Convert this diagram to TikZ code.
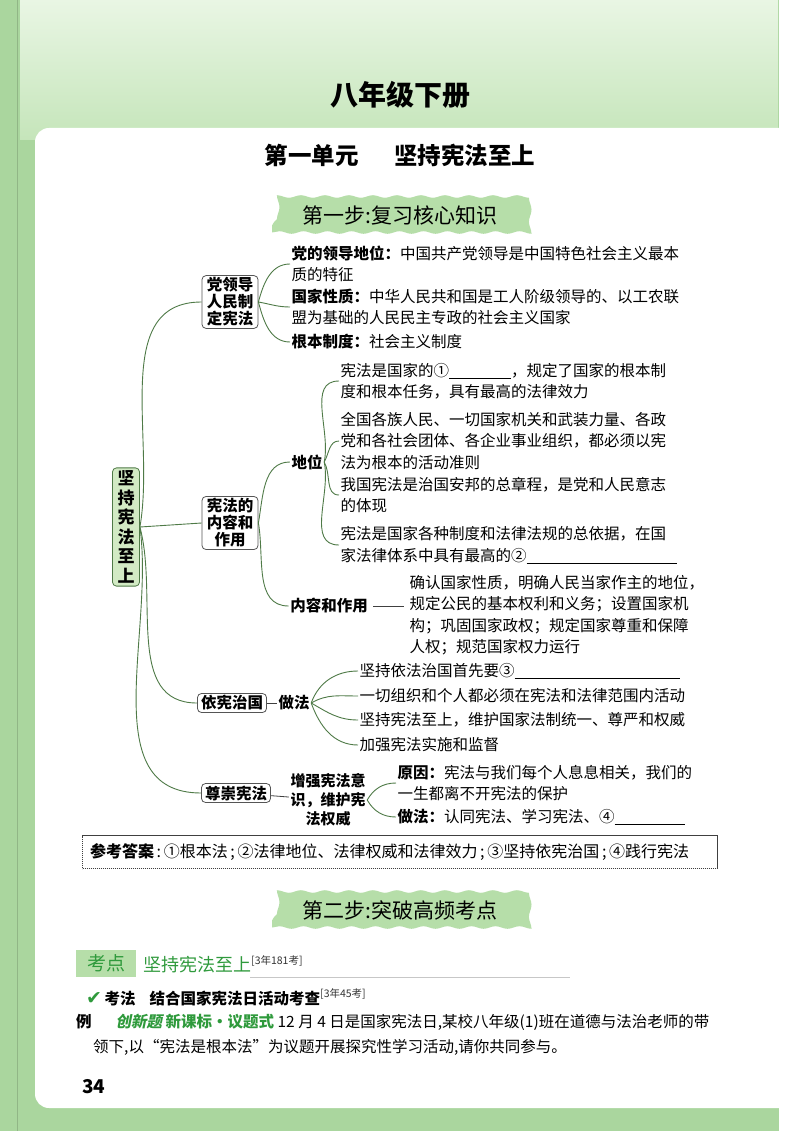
\documentclass[tikz,border=0pt]{standalone}
\usepackage{fontspec}
\setmainfont{Noto Sans CJK SC}
\newfontfamily\simbolo{DejaVu Sans}
\newfontfamily\sesgada{Noto Sans CJK SC}[FakeSlant=0.2]
\usetikzlibrary{positioning,decorations.pathmorphing}
\definecolor{pagVerde}{HTML}{AAD69E}
\definecolor{cabVerdeA}{HTML}{E9F6E4}
\definecolor{cabVerdeB}{HTML}{C5E5BA}
\definecolor{bandaVerde}{HTML}{B6DEA9}
\definecolor{ramaVerde}{HTML}{4F7A47}
\definecolor{raizVerde}{HTML}{D2EAC4}
\definecolor{textoVerde}{HTML}{2F9A3C}
\definecolor{bordeGris}{HTML}{555555}
\newcommand{\hueco}[1]{\rule[-2.5pt]{#1}{0.7pt}}
\newcommand{\cuerpo}{\fontsize{15.5}{21.5}\selectfont}
\newcommand{\arriba}[1]{\raisebox{7pt}{\fontsize{10.5}{10.5}\selectfont\color{black!80}#1}}
\tikzset{
  banda/.style={fill=bandaVerde, decorate,
    decoration={snake, amplitude=1.3pt, segment length=24pt},
    minimum width=256pt, minimum height=35pt, font=\fontsize{21}{21}\selectfont},
  raiz/.style={rectangle, rounded corners=4pt, draw=ramaVerde, thick,
    fill=raizVerde, inner xsep=5pt, inner ysep=3pt, align=center,
    font=\fontsize{17}{19.5}\selectfont\bfseries},
  tema/.style={rectangle, rounded corners=4pt, draw=bordeGris, thick,
    fill=white, inner xsep=3.5pt, inner ysep=2pt, align=center,
    font=\fontsize{15.5}{17}\selectfont\bfseries},
  sub/.style={inner sep=1.5pt, align=center, font=\cuerpo\bfseries},
  hoja/.style={anchor=west, inner sep=1.5pt, align=left, font=\cuerpo},
  rama/.style={draw=ramaVerde, line width=0.9pt},
  guion/.style={draw=black!75, line width=0.8pt},
  respuesta/.style={draw=black!75, dash pattern=on 1.2pt off 0.8pt,
    minimum width=635pt, minimum height=33pt, text width=620pt,
    align=left, font=\fontsize{16}{21}\selectfont},
  etiqueta/.style={fill=bandaVerde, minimum width=60pt, minimum height=27pt,
    text=textoVerde, font=\fontsize{19}{19}\selectfont},
}

\begin{document}
\begin{tikzpicture}[x=1pt,y=1pt]
  \useasboundingbox (0,0) rectangle (800,-1131);
  % pagina
  \fill[white] (0,0) rectangle (800,-1131);
  \fill[pagVerde] (0,0) rectangle (779,-1131);
  \shade[top color=cabVerdeA, bottom color=cabVerdeB] (20,0) rectangle (778,-140);
  \draw[pagVerde!85!black, line width=1pt] (17,0) -- (17,-1131);
  \fill[white, rounded corners=14pt] (35,-128) rectangle (810,-1108);

  \node[font=\fontsize{28}{28}\selectfont\bfseries] (libro) at (400,-95) {八年级下册};
  \node[font=\fontsize{23.5}{24}\selectfont\bfseries] (unidad) at (400,-155)
        {第一单元\hspace{36pt}坚持宪法至上};
  \node[banda] (paso1) at (400,-215) {第一步:复习核心知识};

  % mapa
  \node[raiz] (raiz) at (126,-527) {坚\\持\\宪\\法\\至\\上};
  \node[tema, minimum width=56pt] (zhiding) at (230,-302) {党领导\\人民制\\定宪法};
  \node[tema, minimum width=56pt] (neirong) at (230,-523) {宪法的\\内容和\\作用};
  \node[tema] (yixian) at (232,-703) {依宪治国};
  \node[tema] (zunchong) at (236,-793) {尊崇宪法};

  \draw[rama] (raiz.east) to[out=80,in=180] (zhiding.west);
  \draw[rama] (raiz.east) -- (neirong.west);
  \draw[rama] (raiz.east) to[out=-75,in=180] (yixian.west);
  \draw[rama] (raiz.east) to[out=-82,in=180] (zunchong.west);

  \node[hoja] (lingdao) at (290,-264) {\textbf{党的领导地位：}中国共产党领导是中国特色社会主义最本\\质的特征};
  \node[hoja] (xingzhi) at (290,-307) {\textbf{国家性质：}中华人民共和国是工人阶级领导的、以工农联\\盟为基础的人民民主专政的社会主义国家};
  \node[hoja] (zhidu) at (290,-342) {\textbf{根本制度：}社会主义制度};
  \draw[rama] (zhiding.east) to[out=75,in=180] (lingdao.west);
  \draw[rama] (zhiding.east) to[out=-10,in=180] (xingzhi.west);
  \draw[rama] (zhiding.east) to[out=-75,in=180] (zhidu.west);

  \node[sub] (diwei) at (307,-462) {地位};
  \node[sub] (zuoyong) at (329,-606) {内容和作用};
  \draw[rama] (neirong.east) to[out=80,in=180] (diwei.west);
  \draw[rama] (neirong.east) to[out=-80,in=180] (zuoyong.west);

  \node[hoja] (dw1) at (339,-381) {宪法是国家的①\hueco{62pt}，规定了国家的根本制\\度和根本任务，具有最高的法律效力};
  \node[hoja] (dw2) at (339,-441) {全国各族人民、一切国家机关和武装力量、各政\\党和各社会团体、各企业事业组织，都必须以宪\\法为根本的活动准则};
  \node[hoja] (dw3) at (339,-495) {我国宪法是治国安邦的总章程，是党和人民意志\\的体现};
  \node[hoja] (dw4) at (339,-545) {宪法是国家各种制度和法律法规的总依据，在国\\家法律体系中具有最高的②\hueco{150pt}};
  \draw[rama] (diwei.east) to[out=78,in=180] (dw1.west);
  \draw[rama] (diwei.east) to[out=60,in=180] (dw2.west);
  \draw[rama] (diwei.east) to[out=-60,in=180] (dw3.west);
  \draw[rama] (diwei.east) to[out=-78,in=180] (dw4.west);

  \node[hoja] (zy) at (408,-615) {确认国家性质，明确人民当家作主的地位，\\规定公民的基本权利和义务；设置国家机\\构；巩固国家政权；规定国家尊重和保障\\人权；规范国家权力运行};
  \draw[guion, shorten <=4pt, shorten >=4pt] (zuoyong.east) -- (zuoyong.east -| zy.west);

  \node[sub] (zuofa) at (294,-703) {做法};
  \draw[guion] (yixian) -- (zuofa);
  \node[hoja] (zf1) at (358,-671) {坚持依法治国首先要③\hueco{165pt}};
  \node[hoja] (zf2) at (358,-696) {一切组织和个人都必须在宪法和法律范围内活动};
  \node[hoja] (zf3) at (358,-720) {坚持宪法至上，维护国家法制统一、尊严和权威};
  \node[hoja] (zf4) at (358,-745) {加强宪法实施和监督};
  \draw[rama] (zuofa.east) to[out=70,in=180] (zf1.west);
  \draw[rama] (zuofa.east) to[out=30,in=180] (zf2.west);
  \draw[rama] (zuofa.east) to[out=-30,in=180] (zf3.west);
  \draw[rama] (zuofa.east) to[out=-70,in=180] (zf4.west);

  \node[sub, font=\fontsize{15}{19}\selectfont\bfseries] (yishi) at (328,-800) {增强宪法意\\识，维护宪\\法权威};
  \draw[guion] (zunchong) -- (yishi);
  \node[hoja] (yuanyin) at (396,-783) {\textbf{原因：}宪法与我们每个人息息相关，我们的\\一生都离不开宪法的保护};
  \node[hoja] (zuofa2) at (396,-817) {\textbf{做法：}认同宪法、学习宪法、④\hueco{70pt}};
  \draw[rama] (yishi.east) to[out=60,in=180] (yuanyin.west);
  \draw[rama] (yishi.east) to[out=-60,in=180] (zuofa2.west);

  \node[respuesta] (daan) at (400,-852) {\textbf{参考答案}\,:\,①根本法\,;\,②法律地位、法律权威和法律效力\,;\,③坚持依宪治国\,;\,④践行宪法};

  % segunda parte
  \node[banda] (paso2) at (400,-910) {第二步:突破高频考点};
  \node[etiqueta] (kaodian) at (106,-963) {考点};
  \node[anchor=west, inner sep=0, text=textoVerde, font=\fontsize{18}{18}\selectfont]
        (kdtitulo) at (143,-964) {坚持宪法至上\arriba{[3年181考]}};
  \draw[black!22, line width=0.8pt] (250,-977) -- (570,-977);
  \node[anchor=west, inner sep=0, font=\cuerpo] (kaofa) at (86,-997)
        {{\fontsize{19}{19}\selectfont\simbolo\color{textoVerde}✔}\,\textbf{考法}\hspace{14pt}\textbf{结合国家宪法日活动考查}\arriba{[3年45考]}};
  \node[anchor=west, inner sep=0, font=\cuerpo] (li1) at (76,-1022)
        {\textbf{例}\hspace{24pt}{\sesgada\bfseries\color{textoVerde}创新题} {\bfseries\color{textoVerde}新课标·议题式} 12 月 4 日是国家宪法日,某校八年级(1)班在道德与法治老师的带};
  \node[anchor=west, inner sep=0, font=\cuerpo] (li2) at (93,-1047)
        {领下,以“宪法是根本法”为议题开展探究性学习活动,请你共同参与。};
  \node[anchor=west, inner sep=0, font=\fontsize{19}{19}\selectfont\bfseries] (pagina) at (82,-1087) {34};
\end{tikzpicture}
\end{document}
